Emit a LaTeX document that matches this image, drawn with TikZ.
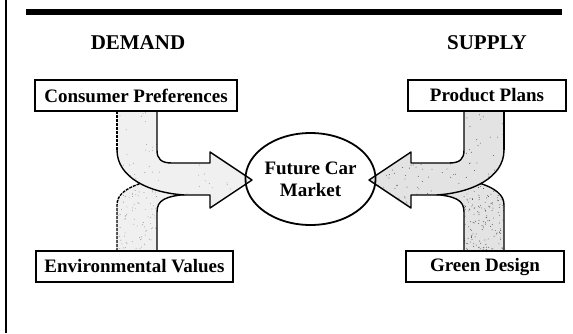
\documentclass[tikz,border=0pt]{standalone}
\usepackage{fontspec}
\setmainfont{Liberation Serif}
\usetikzlibrary{shapes.geometric}
\tikzset{
  box/.style={draw, line width=1.1pt, minimum height=31pt, inner sep=0pt,
    font=\fontsize{19}{22}\selectfont\bfseries},
  headtext/.style={font=\fontsize{21}{24}\selectfont\bfseries, inner sep=0pt},
  arr/.style={line width=1.4pt, line join=round},
  outeredge/.style={arr, dash pattern=on 3pt off 1pt},
}
% #1 fill colour, #2 style of outer edge, #3 number of speckles, #4 speckle colour
\newcommand\lowerpath{(117,251) -- (117,205) .. controls (117,195) and (125,188) .. (145,182)
     -- (190,185) -- (190,194) .. controls (165,196) and (157,200) .. (157,212)
     -- (157,251) -- cycle}
\newcommand\upperpath{(117,111) -- (157,111) -- (157,150) .. controls (157,159) and (161,163) .. (172,163)
     -- (210,163) -- (210,152) -- (252,180) -- (210,208) -- (210,195) -- (185,195)
     .. controls (150,193) and (117,178) .. (117,150) -- cycle}
\newcommand\arrowpair[4]{%
  % lower arrow (passes under)
  \fill[#1] \lowerpath;
  \begin{scope}
    \clip \lowerpath;
    \foreach \k in {1,...,#3} {\fill[#4] ({117+40*rnd},{180+71*rnd}) circle (0.45pt);}
  \end{scope}
  \draw[#2] (117,251) -- (117,205) .. controls (117,195) and (125,188) .. (145,182);
  \draw[arr] (157,251) -- (157,212) .. controls (157,200) and (165,196) .. (190,194);
  % upper arrow
  \fill[#1] \upperpath;
  \begin{scope}
    \clip \upperpath;
    \foreach \k in {1,...,#3} {\fill[#4] ({117+135*rnd},{111+97*rnd}) circle (0.45pt);}
  \end{scope}
  \draw[#2] (117,111) -- (117,150);
  \draw[arr] (117,150) .. controls (117,178) and (150,193) .. (185,195) -- (210,195)
     -- (210,208) -- (252,180) -- (210,152) -- (210,163) -- (172,163)
     .. controls (161,163) and (157,159) .. (157,150) -- (157,111);
}
\begin{document}
\begin{tikzpicture}[x=1pt,y=-1pt]
  \pgfmathsetseed{42}
  \useasboundingbox (0,0) rectangle (573,333);
  \fill[white] (0,0) rectangle (573,333);
  % frame line and title bar
  \draw[line width=2pt] (6,0) -- (6,333);
  \fill[black] (26,9) rectangle (562,15);
  % headings
  \node[headtext] (dem) at (138,43) {DEMAND};
  \node[headtext] (sup) at (487,43) {SUPPLY};
  % block arrows
  \arrowpair{black!6}{outeredge}{90}{black!45}
  \begin{scope}[shift={(621,0)}, xscale=-1]
    \arrowpair{black!11}{arr}{170}{black!75}
  \end{scope}
  % boxes
  \node[box, minimum width=202pt] (cp) at (136,95.5) {Consumer Preferences};
  \node[box, minimum width=158pt] (pp) at (487,95.5) {Product Plans};
  \node[box, minimum width=197pt] (ev) at (134.5,266.5) {Environmental Values};
  \node[box, minimum width=158pt] (gd) at (485,266.5) {Green Design};
  % centre ellipse
  \node[draw, ellipse, line width=1.8pt, minimum width=118pt, minimum height=92pt,
        inner sep=0pt, align=center, font=\fontsize{19}{22}\selectfont\bfseries]
        (mkt) at (310.5,179) {Future Car\\Market};
\end{tikzpicture}
\end{document}
